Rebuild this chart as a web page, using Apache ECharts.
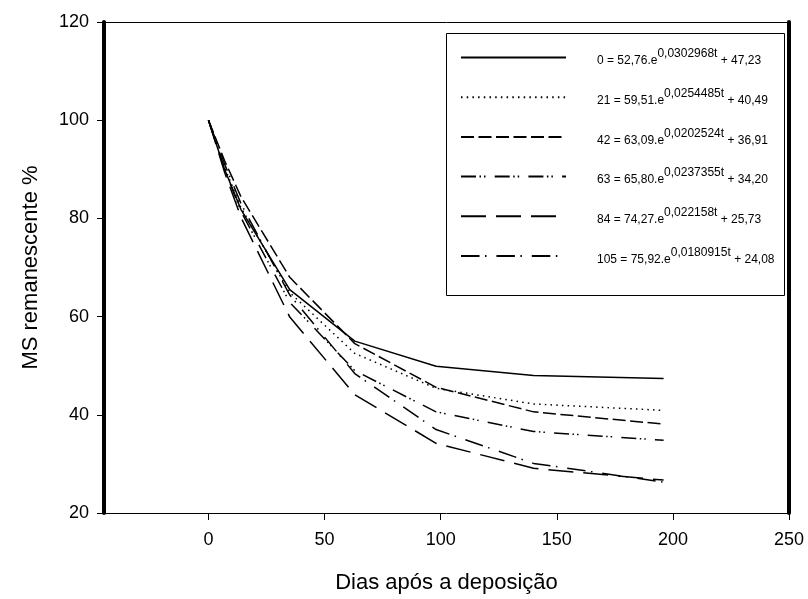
<!DOCTYPE html>
<html>
<head>
<meta charset="utf-8">
<script src="https://cdn.jsdelivr.net/npm/echarts@6/dist/echarts.min.js"></script>
<style>
html,body{margin:0;padding:0;background:#fff;}
#chart{width:808px;height:599px;}
</style>
</head>
<body>
<div id="chart"></div>
<script>
// ---- data ----
const days = [0, 7, 14, 35, 63, 98, 140, 196];
const ms0   = [100, 89.9, 81.8, 65.5, 55.0, 49.9, 48.0, 47.4];
const ms21  = [100, 90.3, 82.2, 64.9, 52.5, 45.4, 42.2, 40.9];
const ms42  = [100, 91.7, 84.4, 68.0, 54.5, 45.6, 40.6, 38.1];
const ms63  = [100, 89.9, 81.4, 62.9, 49.0, 40.6, 36.6, 34.8];
const ms84  = [100, 89.3, 80.2, 59.9, 44.1, 34.2, 29.1, 26.7];
const ms105 = [100, 91.0, 83.0, 64.4, 48.4, 37.0, 30.1, 26.3];
const seriesNames = ['0', '21', '42', '63', '84', '105'];
const eqA = ['52,76', '59,51', '63,09', '65,80', '74,27', '75,92'];
const eqK = ['0,0302968', '0,0254485', '0,0202524', '0,0237355', '0,022158', '0,0180915'];
const eqC = ['47,23', '40,49', '36,91', '34,20', '25,73', '24,08'];
const xTicks = [0, 50, 100, 150, 200, 250];

const allValues = [ms0, ms21, ms42, ms63, ms84, ms105];
const dashTypes = ['solid', [1.5, 4.2], [13, 4.5], [15, 3.5, 1.5, 3, 1.5, 9.2], [25, 10], [18.5, 5.5, 1.5, 9.9]];

const FONT = 'Liberation Sans, Arial, sans-serif';

const chart = echarts.init(document.getElementById('chart'), null, {renderer: 'canvas'});

const series = allValues.map((vals, i) => ({
  name: seriesNames[i],
  type: 'line',
  symbol: 'none',
  data: days.map((d, j) => [d, vals[j]]),
  lineStyle: {color: '#000', width: 1.5, type: dashTypes[i]},
  itemStyle: {color: '#000'},
  xAxisIndex: 0,
  yAxisIndex: 0,
  z: 3
}));

const option = {
  animation: false,
  backgroundColor: '#fff',
  grid: {left: 104, right: 19, top: 22, bottom: 85, show: false},
  xAxis: [
    {
      type: 'value', min: -45, max: 250, position: 'bottom',
      name: 'Dias após a deposição', nameLocation: 'middle', nameGap: 59,
      nameTextStyle: {fontFamily: FONT, fontSize: 22, color: '#000'},
      axisLine: {show: true, onZero: false, lineStyle: {color: '#000', width: 1}},
      axisTick: {show: true, customValues: xTicks, length: 7, inside: false, lineStyle: {color: '#000', width: 1}},
      axisLabel: {customValues: xTicks, fontFamily: FONT, fontSize: 18, color: '#000', margin: 18},
      splitLine: {show: false}
    },
    {
      type: 'value', min: -45, max: 250, position: 'top',
      axisLine: {show: true, onZero: false, lineStyle: {color: '#000', width: 1}},
      axisTick: {show: false}, axisLabel: {show: false}, splitLine: {show: false}
    }
  ],
  yAxis: [
    {
      type: 'value', min: 20, max: 120, interval: 20, position: 'left',
      name: 'MS remanescente %', nameLocation: 'middle', nameGap: 62, nameRotate: 90,
      nameTextStyle: {fontFamily: FONT, fontSize: 22, color: '#000'},
      axisLine: {show: true, onZero: false, lineStyle: {color: '#000', width: 4}},
      axisTick: {show: true, length: 7, lineStyle: {color: '#000', width: 1}},
      axisLabel: {fontFamily: FONT, fontSize: 18, color: '#000', margin: 15},
      splitLine: {show: false}
    },
    {
      type: 'value', min: 20, max: 120, interval: 20, position: 'right',
      axisLine: {show: true, onZero: false, lineStyle: {color: '#000', width: 4}},
      axisTick: {show: false}, axisLabel: {show: false}, splitLine: {show: false}
    }
  ],
  legend: {
    orient: 'vertical',
    left: 460,
    top: 48,
    padding: 0,
    itemWidth: 105,
    itemHeight: 10,
    itemGap: 20.7,
    selectedMode: false,
    data: seriesNames,
    itemStyle: {opacity: 0, borderWidth: 0},
    formatter: function (name) {
      const i = seriesNames.indexOf(name);
      return '{f|' + name + ' = ' + eqA[i] + '.e}{s|' + eqK[i] + 't}{m| + ' + eqC[i] + '}';
    },
    textStyle: {
      fontFamily: FONT, fontSize: 12, color: '#000',
      rich: {
        f: {fontFamily: FONT, fontSize: 12, color: '#000', lineHeight: 19, verticalAlign: 'bottom', padding: [0, 0, 0, 26]},
        m: {fontFamily: FONT, fontSize: 12, color: '#000', lineHeight: 19, verticalAlign: 'bottom'},
        s: {fontFamily: FONT, fontSize: 12, color: '#000', lineHeight: 19, verticalAlign: 'top'}
      }
    }
  },
  graphic: [
    {
      type: 'rect',
      shape: {x: 446.5, y: 33.5, width: 338, height: 262},
      style: {fill: 'none', stroke: '#000', lineWidth: 1},
      z: 10
    }
  ],
  series: series
};

chart.setOption(option);
</script>
</body>
</html>
